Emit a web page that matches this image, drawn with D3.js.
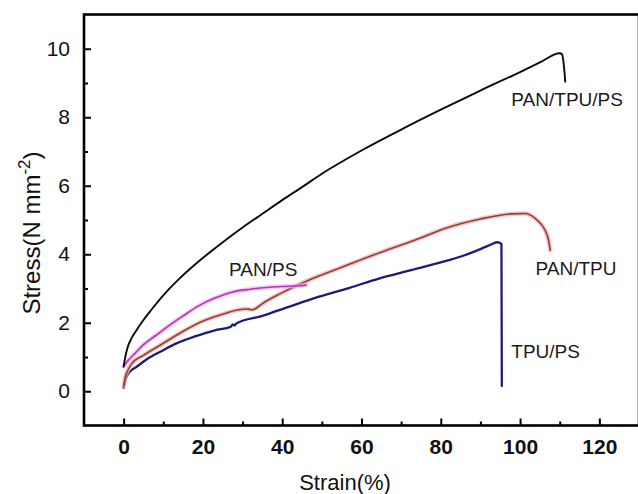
<!DOCTYPE html>
<html>
<head>
<meta charset="utf-8">
<script src="https://cdn.jsdelivr.net/npm/d3@7/dist/d3.min.js"></script>
<style>
  html, body { margin: 0; padding: 0; background: #fff; }
  svg text { font-family: "Liberation Sans", Arial, sans-serif; }
</style>
</head>
<body>
<svg id="chart" width="638" height="494"></svg>
<script>
// ---- Data (strain %, stress N mm^-2) ----
const seriesNames = ["PAN/TPU/PS", "PAN/TPU", "PAN/PS", "TPU/PS"];

const panTpuPsStrain = [0, 0.5, 1, 2, 3, 5, 7, 10, 14, 18, 22, 26, 30, 35, 40, 45, 50, 60, 70, 80, 90, 100, 105, 110, 110.6, 111.1, 111.4];
const panTpuPsStress = [0.72, 1.05, 1.28, 1.55, 1.74, 2.08, 2.38, 2.8, 3.28, 3.7, 4.08, 4.44, 4.78, 5.18, 5.58, 5.96, 6.35, 7.03, 7.64, 8.22, 8.78, 9.32, 9.6, 9.87, 9.84, 9.45, 9.04];

const panTpuStrain = [0, 0.5, 1, 2, 5, 10, 15, 20, 25, 29, 31, 32.5, 33.5, 35, 40, 46.8, 55, 64.4, 74.5, 81.2, 90, 97.9, 101.3, 103.8, 105.5, 106.3, 107.2, 107.6];
const panTpuStress = [0.15, 0.45, 0.6, 0.8, 1.05, 1.4, 1.75, 2.05, 2.25, 2.38, 2.4, 2.38, 2.43, 2.56, 2.88, 3.25, 3.62, 4.04, 4.46, 4.76, 5.03, 5.18, 5.19, 5.05, 4.85, 4.7, 4.4, 4.12];

const panPsStrain = [0, 1, 3, 5, 8, 11, 15, 19, 23, 27.5, 32, 36, 40, 44, 46];
const panPsStress = [0.72, 0.88, 1.12, 1.36, 1.62, 1.88, 2.2, 2.5, 2.72, 2.9, 2.98, 3.03, 3.06, 3.08, 3.1];

const tpuPsStrain = [0, 0.5, 1, 2, 3.2, 6, 10, 13.2, 18, 23, 27, 27.5, 28, 28.4, 35, 42, 49.3, 57, 64.4, 72, 80, 86, 90, 93, 94.2, 95.3, 95.4];
const tpuPsStress = [0.1, 0.35, 0.48, 0.62, 0.71, 0.95, 1.2, 1.39, 1.6, 1.78, 1.88, 1.95, 1.92, 1.98, 2.2, 2.48, 2.76, 3.02, 3.29, 3.52, 3.76, 3.97, 4.15, 4.3, 4.35, 4.3, 0.15];

// label anchor points (data coordinates)
const labelStrain = [97.8, 103.9, 26.6, 97.8];
const labelStress = [8.33, 3.4, 3.36, 0.97];

const xTicksMajor = [0, 20, 40, 60, 80, 100, 120];
const xTicksMinor = [10, 30, 50, 70, 90, 110];
const yTicksMajor = [0, 2, 4, 6, 8, 10];
const yTicksMinor = [1, 3, 5, 7, 9];

// ---- Layout ----
const svg = d3.select("#chart");
const x = d3.scaleLinear().domain([-10, 130]).range([84, 639]);
const y = d3.scaleLinear().domain([-1, 11]).range([425.5, 14.5]);

const zip = (a, b) => a.map((v, i) => [v, b[i]]);
const series = [
  { name: seriesNames[0], data: zip(panTpuPsStrain, panTpuPsStress), color: "#0a0a0a", glow: null, width: 1.9 },
  { name: seriesNames[1], data: zip(panTpuStrain, panTpuStress), color: "#9c3a34", glow: "#e6b4ae", width: 1.6 },
  { name: seriesNames[2], data: zip(panPsStrain, panPsStress), color: "#b633b6", glow: "#f0b4f0", width: 1.6 },
  { name: seriesNames[3], data: zip(tpuPsStrain, tpuPsStress), color: "#1b1b7c", glow: null, width: 2.3 }
];

const line = d3.line().x(d => x(d[0])).y(d => y(d[1])).curve(d3.curveMonotoneX);

// curves (drawn bottom to top)
const order = [3, 1, 2, 0];
order.forEach(i => {
  const s = series[i];
  if (s.glow) {
    svg.append("path").attr("d", line(s.data)).attr("fill", "none")
      .attr("stroke", s.glow).attr("stroke-width", 4.5).attr("stroke-opacity", 0.7)
      .attr("stroke-linejoin", "round").attr("stroke-linecap", "round");
  }
  svg.append("path").attr("d", line(s.data)).attr("fill", "none")
    .attr("stroke", s.color).attr("stroke-width", s.width)
    .attr("stroke-linejoin", "round").attr("stroke-linecap", "round");
});

// frame
const x0 = x.range()[0], x1 = x.range()[1], yb = y.range()[0], yt = y.range()[1];
svg.append("rect").attr("x", x0).attr("y", yt).attr("width", x1 - x0).attr("height", yb - yt)
  .attr("fill", "none").attr("stroke", "#000").attr("stroke-width", 2.6);

// x axis (ticks inward)
const xAxis = d3.axisBottom(x).tickValues(xTicksMajor).tickSize(-7).tickPadding(14).tickFormat(d3.format("d"));
const gx = svg.append("g").attr("transform", `translate(0,${yb})`).call(xAxis);
gx.select(".domain").remove();
gx.selectAll(".tick line").attr("stroke", "#000").attr("stroke-width", 2);
gx.selectAll(".tick text").attr("font-size", 21).attr("font-weight", "bold").attr("fill", "#111");
const gxm = svg.append("g").attr("transform", `translate(0,${yb})`)
  .call(d3.axisBottom(x).tickValues(xTicksMinor).tickSize(-4).tickFormat(""));
gxm.select(".domain").remove();
gxm.selectAll(".tick line").attr("stroke", "#000").attr("stroke-width", 2);

// y axis (ticks inward)
const yAxis = d3.axisLeft(y).tickValues(yTicksMajor).tickSize(-7).tickPadding(14).tickFormat(d3.format("d"));
const gy = svg.append("g").attr("transform", `translate(${x0},0)`).call(yAxis);
gy.select(".domain").remove();
gy.selectAll(".tick line").attr("stroke", "#000").attr("stroke-width", 2);
gy.selectAll(".tick text").attr("font-size", 21).attr("fill", "#111");
const gym = svg.append("g").attr("transform", `translate(${x0},0)`)
  .call(d3.axisLeft(y).tickValues(yTicksMinor).tickSize(-4).tickFormat(""));
gym.select(".domain").remove();
gym.selectAll(".tick line").attr("stroke", "#000").attr("stroke-width", 2);

// axis titles
svg.append("text").attr("x", 345).attr("y", 490).attr("text-anchor", "middle")
  .attr("font-size", 22).attr("fill", "#111").text("Strain(%)");

const yt2 = svg.append("text").attr("transform", "translate(40,233) rotate(-90)")
  .attr("text-anchor", "middle").attr("font-size", 24).attr("fill", "#111");
yt2.append("tspan").text("Stress(N mm");
yt2.append("tspan").attr("font-size", 17).attr("dy", -10).text("-2");
yt2.append("tspan").attr("dy", 10).text(")");

// curve labels
series.forEach((s, i) => {
  svg.append("text").attr("x", x(labelStrain[i])).attr("y", y(labelStress[i]))
    .attr("font-size", 19).attr("fill", "#1a1a1a").text(s.name);
});
</script>
</body>
</html>
